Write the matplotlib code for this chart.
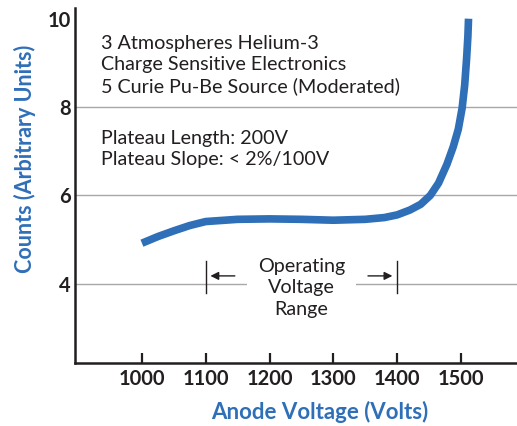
import matplotlib
matplotlib.use("Agg")
import matplotlib.pyplot as plt

# curve (anode voltage vs counts)
volts = [1000, 1025, 1050, 1075, 1100, 1150, 1200, 1250, 1300, 1350, 1380,
         1400, 1420, 1437, 1452, 1465, 1478, 1488, 1496, 1502, 1506, 1509,
         1511, 1512]
counts = [4.92, 5.07, 5.20, 5.32, 5.41, 5.46, 5.47, 5.46, 5.44, 5.46, 5.50,
          5.56, 5.67, 5.80, 6.00, 6.28, 6.70, 7.10, 7.50, 7.98, 8.50, 9.10,
          9.60, 10.0]

x_ticks = [1000, 1100, 1200, 1300, 1400, 1500]
y_ticks = [4, 6, 8, 10]
grid_levels = [4, 6, 8]

range_start, range_end = 1100, 1400
range_y = 4.18

info_lines = ["3 Atmospheres Helium-3",
              "Charge Sensitive Electronics",
              "5 Curie Pu-Be Source (Moderated)"]
plateau_lines = ["Plateau Length: 200V",
                 "Plateau Slope: < 2%/100V"]

blue = "#2f6fb8"
dark = "#231f20"
plt.rcParams["font.family"] = ["Lato", "DejaVu Sans"]

fig = plt.figure(figsize=(5.17, 4.26), dpi=100)
ax = fig.add_axes([0.145, 0.148, 0.855, 0.833])

for g in grid_levels:
    ax.axhline(g, color="#a8a8a8", lw=1.0, zorder=1)

ax.plot(volts, counts, color=blue, lw=5.5, solid_capstyle="butt",
        solid_joinstyle="round", zorder=3)

ax.set_xlim(895, 1588)
ax.set_ylim(2.21, 10.24)
ax.set_xticks(x_ticks)
ax.set_yticks(y_ticks)
ax.tick_params(axis="x", direction="in", length=7, width=1.6, colors=dark,
               labelsize=14.5, pad=4)
ax.tick_params(axis="y", length=0, colors=dark, labelsize=14.5, pad=3)
for lab in ax.get_xticklabels() + ax.get_yticklabels():
    lab.set_fontweight("bold")

for s in ["top", "right"]:
    ax.spines[s].set_visible(False)
for s in ["left", "bottom"]:
    ax.spines[s].set_linewidth(1.8)
    ax.spines[s].set_color(dark)

ax.set_xlabel("Anode Voltage (Volts)", color=blue, fontsize=16,
              fontweight="bold", va="center")
ax.xaxis.set_label_coords(0.554, -0.138)
ax.set_ylabel("Counts (Arbitrary Units)", color=blue, fontsize=15.5,
              fontweight="bold", va="center")
ax.yaxis.set_label_coords(-0.113, 0.575)

ax.text(0.06, 0.925, "\n".join(info_lines), transform=ax.transAxes,
        fontsize=14.2, color=dark, va="top", ha="left", linespacing=1.3)
ax.text(0.06, 0.656, "\n".join(plateau_lines), transform=ax.transAxes,
        fontsize=14.2, color=dark, va="top", ha="left", linespacing=1.3)

# operating voltage range marker
mid = (range_start + range_end) / 2
ax.text(mid, 3.91, "Operating\nVoltage\nRange", ha="center", va="center",
        fontsize=14.2, color=dark, linespacing=1.3, zorder=2,
        bbox=dict(facecolor="white", edgecolor="none", pad=8))
for xv in [range_start, range_end]:
    ax.plot([xv, xv], [range_y - 0.38, range_y + 0.34], color=dark, lw=1.0, zorder=4)
ax.annotate("", xy=(range_start + 3, range_y), xytext=(range_start + 50, range_y),
            arrowprops=dict(arrowstyle="-|>", color=dark, lw=1.0,
                            mutation_scale=12), zorder=4)
ax.annotate("", xy=(range_end - 3, range_y), xytext=(range_end - 50, range_y),
            arrowprops=dict(arrowstyle="-|>", color=dark, lw=1.0,
                            mutation_scale=12), zorder=4)

fig.savefig("out.png", dpi=100)
